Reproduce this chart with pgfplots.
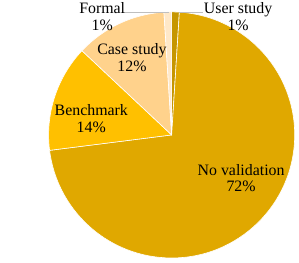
\documentclass[border=0pt]{standalone}
\usepackage{pgfplots}
\pgfplotsset{compat=1.18}
\usepackage{fontspec}
\setmainfont{Liberation Serif}
\definecolor{userc}{RGB}{198,150,0}
\definecolor{novalc}{RGB}{224,168,0}
\definecolor{benchc}{RGB}{255,192,0}
\definecolor{casec}{RGB}{255,210,140}
\definecolor{formalc}{RGB}{255,232,200}
% value / colour (clockwise from the top)
\def\piedata{1/userc,72/novalc,14/benchc,12/casec,1/formalc}
\begin{document}
\begin{tikzpicture}
\begin{axis}[x=1pt,y=1pt,xmin=-173,xmax=126,ymin=-125,ymax=136,
  hide axis,scale only axis,clip=false]
\path (axis cs:-173,-125) rectangle (axis cs:126,136);
\pgfplotsextra{
  \xdef\cum{0}
  \foreach \v/\c in \piedata {
    \pgfmathsetmacro\a{90-3.6*\cum}
    \pgfmathsetmacro\b{90-3.6*(\cum+\v)}
    \fill[\c,draw=white,line width=0.6pt] (axis cs:0,0) -- (axis cs:{124*cos(\a)},{124*sin(\a)})
      arc[start angle=\a,end angle=\b,radius=124pt] -- cycle;
    \pgfmathsetmacro\cumn{\cum+\v}
    \global\let\cum\cumn
  }
}
\draw[black!25,line width=0.6pt] (axis cs:-50,124) -- (axis cs:-3,124);
\draw[black!25,line width=0.6pt] (axis cs:7,124) -- (axis cs:32,124);
\begin{scope}[every node/.style={align=center,font=\fontsize{16}{17}\selectfont,inner sep=0pt}]
\node at (axis cs:-70,119) {Formal\\1\%};
\node at (axis cs:67,119) {User study\\1\%};
\node at (axis cs:-40,78) {Case study\\12\%};
\node at (axis cs:-81,16.5) {Benchmark\\14\%};
\node at (axis cs:70,-43.5) {No validation\\72\%};
\end{scope}
\end{axis}
\end{tikzpicture}
\end{document}
